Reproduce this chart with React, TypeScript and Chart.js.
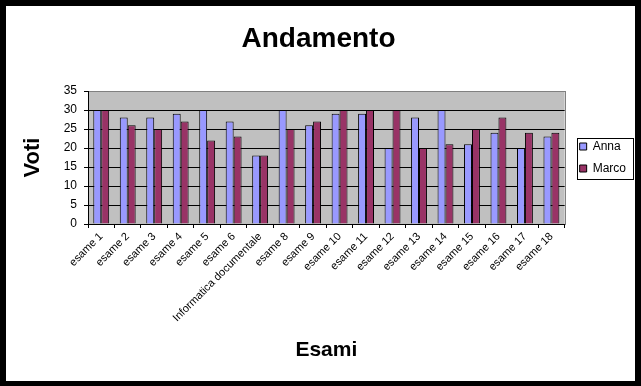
import React, { useEffect, useRef } from 'react';
import { Chart, registerables } from 'chart.js';

Chart.register(...registerables);

const categories = [
  'esame 1', 'esame 2', 'esame 3', 'esame 4', 'esame 5', 'esame 6',
  'Informatica documentale', 'esame 8', 'esame 9', 'esame 10', 'esame 11',
  'esame 12', 'esame 13', 'esame 14', 'esame 15', 'esame 16', 'esame 17', 'esame 18',
];
const annaScores = [30, 28, 28, 29, 30, 27, 18, 30, 26, 29, 29, 20, 28, 30, 21, 24, 20, 23];
const marcoScores = [30, 26, 25, 27, 22, 23, 18, 25, 27, 30, 30, 30, 20, 21, 25, 28, 24, 24];
const voteTicks = [0, 5, 10, 15, 20, 25, 30, 35];

const FONT = "'Liberation Sans', Arial, sans-serif";

const plotBackground = {
  id: 'plotBackground',
  beforeDraw(chart: any) {
    const { ctx, chartArea: a } = chart;
    ctx.save();
    ctx.fillStyle = '#C0C0C0';
    ctx.fillRect(a.left, a.top, a.right - a.left, a.bottom - a.top);
    const l = Math.round(a.left), t = Math.round(a.top), r = Math.round(a.right), b = Math.round(a.bottom);
    ctx.strokeStyle = '#808080';
    ctx.lineWidth = 1;
    ctx.strokeRect(l + 0.5, t + 0.5, r - l, b - t);
    ctx.restore();
  },
};

const legendFrame = {
  id: 'legendFrame',
  afterLayout(chart: any) {
    const lg = chart.legend;
    if (lg) {
      lg.left += 5;
      lg.right += 5;
    }
  },
  afterDraw(chart: any) {
    const lg = chart.legend;
    const hb = lg && lg.legendHitBoxes;
    if (!hb || !hb.length) return;
    const { ctx } = chart;
    const x = Math.round(hb[0].left) - 3;
    const top = Math.round(hb[0].top) - 3;
    const last = hb[hb.length - 1];
    const bottom = Math.round(last.top + last.height) + 4;
    ctx.save();
    ctx.strokeStyle = '#000';
    ctx.lineWidth = 1;
    ctx.strokeRect(x + 0.5, top + 0.5, 56, bottom - top);
    ctx.restore();
  },
};

export default function App() {
  const canvasRef = useRef<HTMLCanvasElement | null>(null);

  useEffect(() => {
    if (!canvasRef.current) return;
    const chart = new Chart(canvasRef.current, {
      type: 'bar',
      data: {
        labels: categories,
        datasets: [
          {
            label: 'Anna',
            data: annaScores,
            backgroundColor: '#9999FF',
            borderColor: '#000000',
            borderWidth: 1,
            categoryPercentage: 0.6,
            barPercentage: 1.0,
          },
          {
            label: 'Marco',
            data: marcoScores,
            backgroundColor: '#993366',
            borderColor: '#000000',
            borderWidth: 1,
            categoryPercentage: 0.6,
            barPercentage: 1.0,
          },
        ],
      },
      options: {
        animation: false,
        responsive: false,
        devicePixelRatio: 1,
        events: [],
        layout: { padding: { left: 0, right: 4, top: 0, bottom: 0 } },
        plugins: {
          title: {
            display: true,
            text: 'Andamento',
            color: '#000',
            font: { family: FONT, size: 28, weight: 'bold' },
            padding: { top: 16, bottom: 35.4 },
          },
          legend: {
            position: 'right',
            fullSize: false,
            align: 'center',
            labels: {
              boxWidth: 7,
              boxHeight: 7,
              padding: 10,
              color: '#000',
              font: { family: FONT, size: 12 },
            },
          },
          tooltip: { enabled: false },
        },
        scales: {
          x: {
            ticks: {
              color: '#000',
              font: { family: FONT, size: 11 },
              minRotation: 45,
              maxRotation: 45,
              autoSkip: false,
              padding: 2,
            },
            grid: {
              display: true,
              drawOnChartArea: false,
              drawTicks: true,
              tickLength: 4,
              color: '#000',
              offset: true,
            },
            border: { color: '#000', width: 1 },
            title: {
              display: true,
              text: 'Esami',
              color: '#000',
              font: { family: FONT, size: 21, weight: 'bold' },
              padding: { top: 0, bottom: 18 },
            },
            afterFit: (s: any) => {
              s.height = 157;
            },
          },
          y: {
            min: voteTicks[0],
            max: voteTicks[voteTicks.length - 1],
            afterBuildTicks: (s: any) => {
              s.ticks = voteTicks.map((v) => ({ value: v }));
            },
            ticks: {
              color: '#000',
              font: { family: FONT, size: 12 },
              padding: 7,
            },
            grid: {
              color: (c: any) => (c.tick && c.tick.value === 35 ? '#808080' : '#000'),
              tickColor: '#000',
              tickLength: 4,
              lineWidth: 1,
            },
            border: { color: '#000', width: 1 },
            title: {
              display: true,
              text: 'Voti',
              color: '#000',
              font: { family: FONT, size: 22, weight: 'bold' },
              padding: { top: 14, bottom: 0 },
            },
            afterFit: (s: any) => {
              s.width = 82;
            },
          },
        },
      },
      plugins: [plotBackground, legendFrame],
    } as any);
    return () => chart.destroy();
  }, []);

  return (
    <div style={{ position: 'fixed', left: 0, top: 0, width: 641, height: 386, background: '#000' }}>
      <div style={{ position: 'absolute', left: 6, top: 6, width: 629, height: 375, background: '#fff' }}>
        <canvas ref={canvasRef} width={629} height={375} style={{ display: 'block', width: 629, height: 375 }} />
      </div>
    </div>
  );
}
